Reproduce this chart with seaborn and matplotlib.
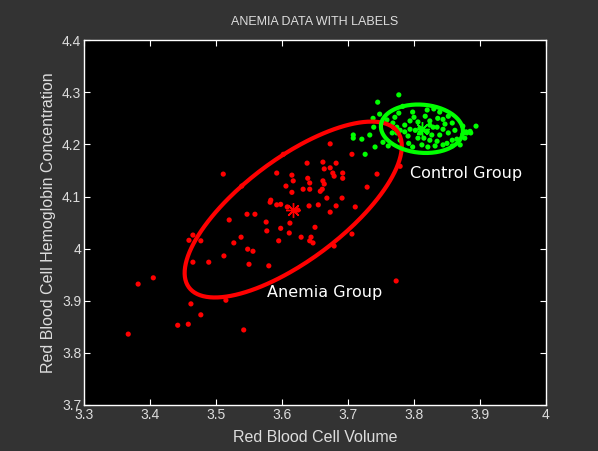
import numpy as np
import pandas as pd
import matplotlib
matplotlib.use("Agg")
import matplotlib.pyplot as plt
import seaborn as sns

# values
anemia_volume = [3.673, 3.602, 3.706, 3.511, 3.638, 3.662, 3.682, 3.673, 3.664, 3.592,
                 3.615, 3.677, 3.692, 3.679, 3.692, 3.744, 3.779, 3.539, 3.617, 3.639,
                 3.642, 3.662, 3.664, 3.606, 3.632, 3.642, 3.661, 3.658, 3.615, 3.729,
                 3.668, 3.691, 3.583, 3.582, 3.592, 3.598, 3.608, 3.641, 3.655, 3.682,
                 3.711, 3.624, 3.673, 3.547, 3.559, 3.520, 3.576, 3.612, 3.650, 3.598,
                 3.577, 3.611, 3.538, 3.629, 3.644, 3.465, 3.459, 3.477, 3.595, 3.642,
                 3.647, 3.706, 3.527, 3.548, 3.556, 3.679, 3.512, 3.465, 3.489, 3.550,
                 3.580, 3.773, 3.462, 3.515, 3.405, 3.382, 3.477, 3.442, 3.458, 3.367,
                 3.542]
anemia_conc = [4.201, 4.181, 4.181, 4.143, 4.164, 4.166, 4.164, 4.155, 4.153, 4.145,
               4.141, 4.145, 4.145, 4.139, 4.135, 4.143, 4.158, 4.120, 4.130, 4.135,
               4.126, 4.130, 4.124, 4.120, 4.114, 4.114, 4.114, 4.110, 4.108, 4.118,
               4.097, 4.097, 4.093, 4.089, 4.084, 4.085, 4.080, 4.082, 4.084, 4.082,
               4.080, 4.074, 4.070, 4.066, 4.066, 4.055, 4.051, 4.049, 4.041, 4.039,
               4.034, 4.030, 4.022, 4.022, 4.022, 4.026, 4.016, 4.015, 4.015, 4.015,
               4.011, 4.028, 4.011, 3.999, 3.995, 4.005, 3.986, 3.974, 3.974, 3.970,
               3.967, 3.938, 3.894, 3.901, 3.944, 3.932, 3.873, 3.853, 3.855, 3.836,
               3.844]

control_volume = [3.777, 3.745, 3.783, 3.748, 3.738, 3.771, 3.777, 3.798, 3.820, 3.830,
                  3.839, 3.817, 3.824, 3.794, 3.800, 3.806, 3.836, 3.844, 3.858, 3.894,
                  3.880, 3.886, 3.739, 3.779, 3.786, 3.774, 3.794, 3.802, 3.809, 3.824,
                  3.829, 3.835, 3.844, 3.852, 3.820, 3.827, 3.839, 3.721, 3.733, 3.767,
                  3.753, 3.741, 3.726, 3.761, 3.791, 3.792, 3.806, 3.815, 3.824, 3.835,
                  3.850, 3.858, 3.865, 3.877, 3.870, 3.858, 3.844, 3.821, 3.812, 3.798,
                  3.779, 3.768, 3.774, 3.708, 3.708, 3.885, 3.879, 3.847, 3.862, 3.809,
                  3.786, 3.832, 3.874, 3.759, 3.852]
control_conc = [4.295, 4.281, 4.273, 4.258, 4.250, 4.252, 4.260, 4.262, 4.266, 4.268,
                4.262, 4.254, 4.245, 4.245, 4.252, 4.243, 4.250, 4.248, 4.241, 4.235,
                4.222, 4.222, 4.233, 4.227, 4.224, 4.222, 4.229, 4.227, 4.231, 4.237,
                4.233, 4.233, 4.229, 4.222, 4.224, 4.218, 4.218, 4.210, 4.218, 4.222,
                4.204, 4.195, 4.181, 4.197, 4.216, 4.202, 4.212, 4.212, 4.208, 4.206,
                4.202, 4.208, 4.210, 4.212, 4.199, 4.197, 4.199, 4.195, 4.199, 4.195,
                4.208, 4.241, 4.233, 4.218, 4.212, 4.225, 4.224, 4.239, 4.227, 4.222,
                4.237, 4.197, 4.235, 4.247, 4.254]

# group centres (asterisks) and ellipse shape: semi-major, semi-minor, angle (deg)
anemia_center = (3.617, 4.075)
anemia_shape = (0.2186, 0.088, 46.0)
control_center = (3.812, 4.230)
control_shape = (0.0625, 0.046, -9.0)

x_ticks = [3.3, 3.4, 3.5, 3.6, 3.7, 3.8, 3.9, 4.0]
y_ticks = [3.7, 3.8, 3.9, 4.0, 4.1, 4.2, 4.3, 4.4]

df = pd.DataFrame({
    'volume': anemia_volume + control_volume,
    'conc': anemia_conc + control_conc,
    'group': ['Anemia'] * len(anemia_volume) + ['Control'] * len(control_volume),
})
colors = {'Anemia': '#ff0000', 'Control': '#00ff00'}

sns.set_style("dark")
plt.rcParams['font.family'] = ['Liberation Sans', 'DejaVu Sans']

fig = plt.figure(figsize=(5.98, 4.51), dpi=100, facecolor='#333333')
ax = fig.add_axes([0.1405, 0.102, 0.7725, 0.809])
ax.set_facecolor('black')

sns.scatterplot(data=df, x='volume', y='conc', hue='group', palette=colors,
                s=14, linewidth=0, legend=False, ax=ax, zorder=2)


def ellipse(center, shape, n=240):
    a, b, ang = shape
    th = np.deg2rad(ang)
    t = np.linspace(0, 2 * np.pi, n)
    ex = center[0] + a * np.cos(t) * np.cos(th) - b * np.sin(t) * np.sin(th)
    ey = center[1] + a * np.cos(t) * np.sin(th) + b * np.sin(t) * np.cos(th)
    return ex, ey


for name, c, shp in [('Anemia', anemia_center, anemia_shape),
                     ('Control', control_center, control_shape)]:
    ex, ey = ellipse(c, shp)
    ax.plot(ex, ey, color=colors[name], lw=3, zorder=3)
    ax.plot(c[0], c[1], marker=(8, 2, 0), markersize=10.5, mew=1,
            color=colors[name], zorder=4)

ax.text(3.664, 3.915, 'Anemia Group', color='white', fontsize=11.5,
        family='DejaVu Sans', ha='center', va='center')
ax.text(3.794, 4.145, 'Control Group', color='white', fontsize=11.5,
        family='DejaVu Sans', ha='left', va='center')

ax.set_xlim(3.3, 4.0)
ax.set_ylim(3.7, 4.4)
ax.set_xticks(x_ticks)
ax.set_xticklabels(['3.3', '3.4', '3.5', '3.6', '3.7', '3.8', '3.9', '4'])
ax.set_yticks(y_ticks)
ax.set_yticklabels(['3.7', '3.8', '3.9', '4', '4.1', '4.2', '4.3', '4.4'])
ax.tick_params(direction='in', length=4, width=0.8, color='white',
               labelcolor='#dddddd', labelsize=10, top=True, right=True,
               bottom=True, left=True, pad=2)
for s in ax.spines.values():
    s.set_color('white')
    s.set_linewidth(1)
ax.grid(False)

ax.set_xlabel('Red Blood Cell Volume', color='#dddddd', fontsize=11.5, labelpad=6)
ax.set_ylabel('Red Blood Cell Hemoglobin Concentration', color='#dddddd',
              fontsize=11.5, labelpad=4)
ax.set_title('ANEMIA DATA WITH LABELS', color='#dddddd', fontsize=9, pad=11)

fig.savefig('out.png', dpi=100, facecolor=fig.get_facecolor())
